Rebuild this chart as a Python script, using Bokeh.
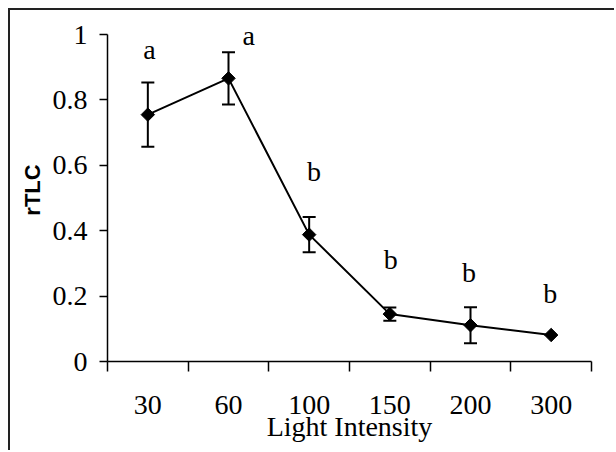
import math
from bokeh.plotting import figure
from bokeh.models import (ColumnDataSource, Range1d, FixedTicker, Whisker, TeeHead,
                          NumeralTickFormatter)
from bokeh.core.properties import value
from bokeh.embed import file_html
from bokeh.resources import INLINE

# ---- data ----
x_labels = ["30", "60", "100", "150", "200", "300"]
means = [0.755, 0.866, 0.388, 0.145, 0.111, 0.081]
errors = [0.098, 0.080, 0.054, 0.020, 0.055, 0.0]
letters = ["a", "a", "b", "b", "b", "b"]
letter_y = [0.954, 0.998, 0.580, 0.312, 0.272, 0.207]
letter_dx = [0.02, 0.25, 0.06, 0.01, -0.02, -0.01]
y_ticks = [0, 0.2, 0.4, 0.6, 0.8, 1.0]

xs = list(range(1, len(x_labels) + 1))
src = ColumnDataSource(dict(x=xs, y=means))
wx = [x for x, e in zip(xs, errors) if e > 0]
wl = [m - e for m, e in zip(means, errors) if e > 0]
wu = [m + e for m, e in zip(means, errors) if e > 0]
wsrc = ColumnDataSource(dict(x=wx, lower=wl, upper=wu))
lsrc = ColumnDataSource(dict(x=[x + d for x, d in zip(xs, letter_dx)], y=letter_y, t=letters))

SERIF = "Liberation Serif"
INK = "#000000"

p = figure(width=606, height=442, output_backend="svg", toolbar_location=None,
           x_range=Range1d(0.5, len(xs) + 0.5), y_range=Range1d(0, 1.049),
           min_border_left=97, min_border_right=25, min_border_top=8, min_border_bottom=91)
p.xgrid.visible = False
p.ygrid.visible = False
p.outline_line_color = None
p.styles = {"border-top": "2px solid #222", "border-left": "2px solid #222",
            "margin-left": "8px", "margin-top": "8px"}

# x axis
xa = p.xaxis[0]
xa.ticker = FixedTicker(ticks=xs, minor_ticks=[x - 0.5 for x in xs] + [xs[-1] + 0.5])
xa.major_label_overrides = {x: lab for x, lab in zip(xs, x_labels)}
xa.major_tick_out = 0
xa.major_tick_in = 0
xa.minor_tick_out = 10
xa.minor_tick_in = 0
xa.minor_tick_line_color = INK
xa.minor_tick_line_width = 1.5
xa.axis_line_color = INK
xa.axis_line_width = 1.5
xa.major_label_text_font = SERIF
xa.major_label_text_font_size = "28px"
xa.major_label_text_color = INK
xa.major_label_standoff = 24
xa.axis_label = "Light Intensity"
xa.axis_label_text_font = SERIF
xa.axis_label_text_font_size = "28px"
xa.axis_label_text_font_style = "normal"
xa.axis_label_text_color = INK
xa.axis_label_standoff = -6

# y axis
ya = p.yaxis[0]
ya.ticker = FixedTicker(ticks=y_ticks)
ya.formatter = NumeralTickFormatter(format="0.[0]")
ya.bounds = (0, 1)
ya.major_tick_out = 8
ya.major_tick_in = 0
ya.minor_tick_out = 0
ya.minor_tick_in = 0
ya.major_tick_line_color = INK
ya.major_tick_line_width = 1.5
ya.axis_line_color = INK
ya.axis_line_width = 1.5
ya.major_label_text_font = SERIF
ya.major_label_text_font_size = "28px"
ya.major_label_text_color = INK
ya.major_label_standoff = 12
ya.axis_label = "rTLC"
ya.axis_label_text_font = "Liberation Sans"
ya.axis_label_text_font_size = "22px"
ya.axis_label_text_font_style = "bold"
ya.axis_label_text_color = INK
ya.axis_label_standoff = 5

# error bars
p.add_layout(Whisker(source=wsrc, base="x", lower="lower", upper="upper",
                     line_color=INK, line_width=2,
                     upper_head=TeeHead(size=13, line_width=2, line_color=INK),
                     lower_head=TeeHead(size=13, line_width=2, line_color=INK)))

# line + markers
p.line("x", "y", source=src, line_color=INK, line_width=2)
p.scatter("x", "y", source=src, marker="square", angle=math.pi / 4, size=9.5,
          fill_color=INK, line_color=INK)

# significance letters
p.text("x", "y", text="t", source=lsrc, text_font=value(SERIF), text_font_size="28px",
       text_align="center", text_baseline="alphabetic", text_color=INK)

open("out.html", "w").write(file_html(p, INLINE))
